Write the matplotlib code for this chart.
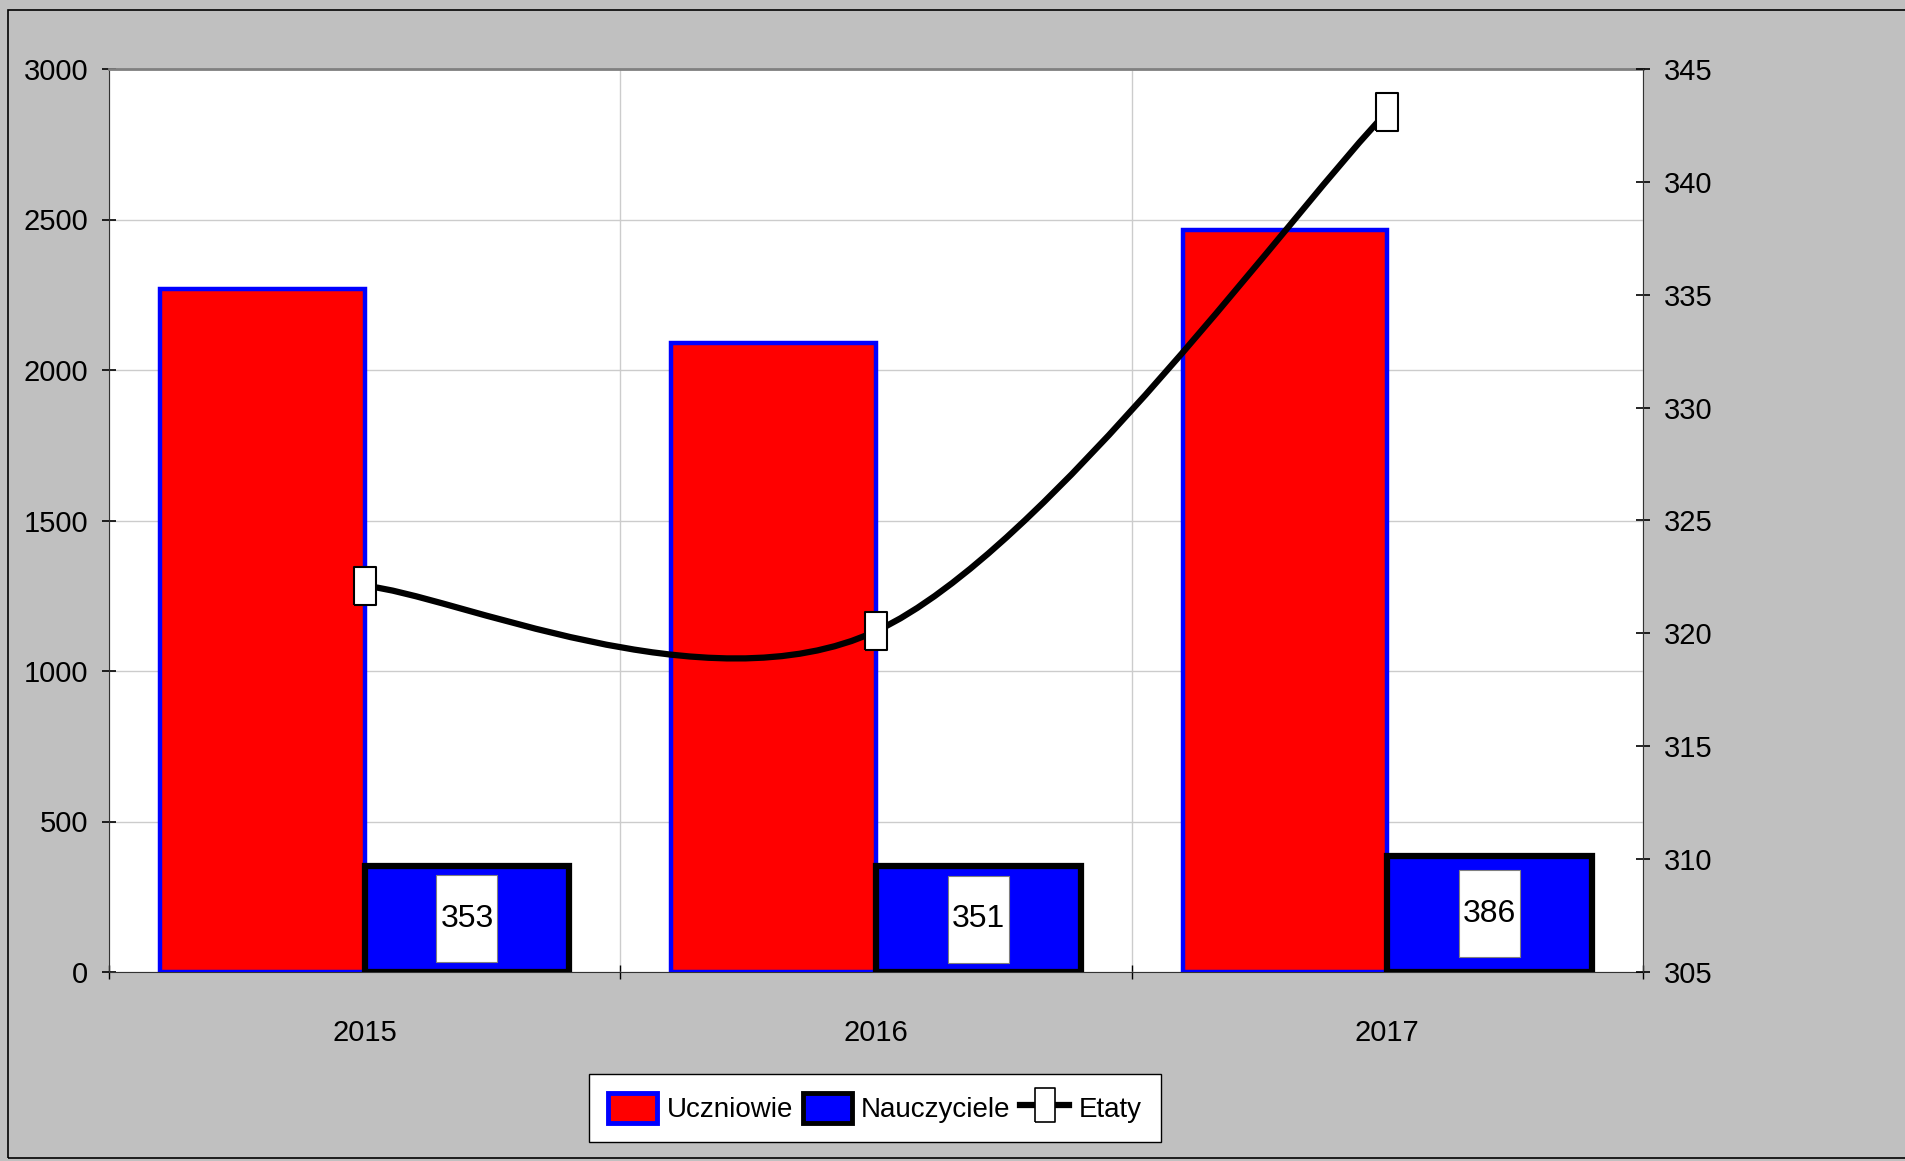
import numpy as np
import matplotlib
matplotlib.use('Agg')
import matplotlib.pyplot as plt
from matplotlib.patches import Patch, Rectangle, PathPatch
from matplotlib.lines import Line2D
from matplotlib.path import Path
from matplotlib.transforms import ScaledTranslation

plt.rcParams['font.family'] = ['Liberation Sans Narrow', 'Liberation Sans', 'DejaVu Sans']

years = ['2015', '2016', '2017']
uczniowie = [2270, 2090, 2465]
nauczyciele = [353, 351, 386]
etaty = [322.1, 320.1, 343.1]

W, H = 1905, 1161
fig = plt.figure(figsize=(W / 100, H / 100), dpi=100, facecolor='#C0C0C0')
ax = fig.add_axes([109 / W, 1 - 972 / H, (1643 - 109) / W, (972 - 69) / H])
ax.set_facecolor('white')

# outer chart border (runs off the right edge in the original)
fig.patches.append(Rectangle((8 / W, 3 / H), 1.0, (1158 - 10) / H,
                             transform=fig.transFigure, fill=False,
                             ec='black', lw=1.2))

x = np.arange(len(years))
bw = 0.4
ax.bar(x - bw / 2, uczniowie, bw, color='#FF0000', edgecolor='#0000FF',
       linewidth=3.2, zorder=3)
ax.bar(x + bw / 2, nauczyciele, bw, color='#0000FF', edgecolor='black',
       linewidth=4.5, zorder=3)

# value boxes inside the blue bars
for xi, v in zip(x + bw / 2, nauczyciele):
    off = ScaledTranslation(xi, v / 2, ax.transData)
    ax.add_patch(Rectangle((-0.305, -0.435), 0.61, 0.87,
                           transform=fig.dpi_scale_trans + off,
                           fc='white', ec='#808080', lw=0.8, zorder=4))
    ax.text(xi, v / 2, str(v), ha='center', va='center', fontsize=23, zorder=5)

ax.set_xlim(-0.5, 2.5)
ax.set_ylim(0, 3000)
ax.set_yticks(np.arange(0, 3001, 500))
ax.set_xticks(x)
ax.set_xticklabels(years)
ax.set_xticks([-0.5, 0.5, 1.5, 2.5], minor=True)
ax.tick_params(axis='x', which='major', length=0, pad=34, labelsize=21)
ax.tick_params(axis='x', which='minor', direction='inout', length=10, width=1)
ax.tick_params(axis='y', direction='inout', length=10, width=1.2, pad=10,
               labelsize=21)
ax.grid(axis='y', color='#CCCCCC', lw=1)
ax.grid(axis='x', which='minor', color='#CCCCCC', lw=1)
ax.set_axisbelow(True)
ax.spines['top'].set_color('#808080')
ax.spines['top'].set_linewidth(2)
ax.spines['right'].set_visible(False)
ax.spines['left'].set_color('#333333')
ax.spines['bottom'].set_color('#333333')

ax2 = ax.twinx()
ax2.set_ylim(305, 345)
ax2.set_yticks(np.arange(305, 346, 5))
ax2.tick_params(axis='y', direction='inout', length=10, width=1.2, pad=10,
                labelsize=21)
for s in ['top', 'left', 'bottom']:
    ax2.spines[s].set_visible(False)
ax2.spines['right'].set_color('#333333')

# smoothed line (Excel-style bezier through the points)
pts = np.column_stack([x, etaty]).astype(float)
ext = np.vstack([pts[0], pts, pts[-1]])
verts, codes = [pts[0]], [Path.MOVETO]
for i in range(len(pts) - 1):
    p0, p1, p2, p3 = ext[i], ext[i + 1], ext[i + 2], ext[i + 3]
    verts += [p1 + (p2 - p0) / 6, p2 - (p3 - p1) / 6, p2]
    codes += [Path.CURVE4] * 3
ax2.add_patch(PathPatch(Path(verts, codes), fill=False, ec='black', lw=4.5,
                        capstyle='round', joinstyle='round', zorder=5))
rect = [(-0.3, -0.5), (0.3, -0.5), (0.3, 0.5), (-0.3, 0.5), (-0.3, -0.5)]
ax2.plot(x, etaty, ls='none', marker=rect, ms=27, mfc='white', mec='black',
         mew=1.5, zorder=6)

handles = [Patch(facecolor='#FF0000', edgecolor='#0000FF', lw=3.5),
           Patch(facecolor='#0000FF', edgecolor='black', lw=3.5),
           Line2D([], [], color='black', lw=4.5, marker=rect, ms=24,
                  mfc='white', mec='black', mew=1.2)]
leg = fig.legend(handles, ['Uczniowie', 'Nauczyciele', 'Etaty'], ncol=3,
                 loc='center', bbox_to_anchor=(875 / W, 1 - 1108 / H),
                 fontsize=20, frameon=True, fancybox=False, framealpha=1,
                 edgecolor='black', handlelength=1.76, handleheight=1.26,
                 handletextpad=0.35, columnspacing=0.35, borderpad=0.69)
leg.get_frame().set_linewidth(1)

fig.savefig('out.png', dpi=100, facecolor=fig.get_facecolor())
